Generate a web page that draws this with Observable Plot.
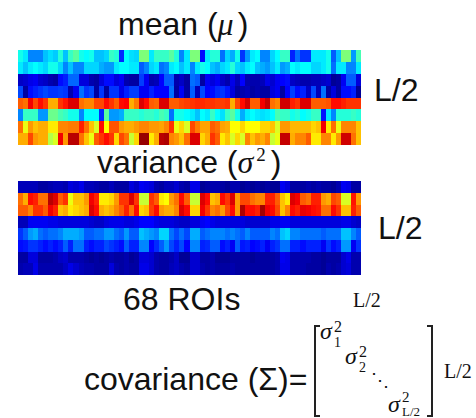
<!DOCTYPE html>
<html><head><meta charset="utf-8">
<script src="https://cdn.jsdelivr.net/npm/d3@7"></script>
<script src="https://cdn.jsdelivr.net/npm/@observablehq/plot@0.6"></script>
<style>
html,body{margin:0;padding:0;background:#fff;overflow:hidden}
#page{position:relative;width:476px;height:418px;overflow:hidden}
.t{position:absolute;white-space:nowrap;line-height:1;color:#111}
.sans{font-family:"Liberation Sans",Arial,sans-serif}
.serif{font-family:"Liberation Serif","Times New Roman",serif}
.i{font-style:italic}
.plot{position:absolute;filter:blur(0.55px)}
.br{position:absolute;border:2px solid #222;width:6px;top:325px;height:92px;box-sizing:border-box}
</style></head><body><div id="page"></div>
<script>
const rois = d3.range(1, 69);
const meanRow1 = [38,34,24,24,24,30,33,31,40,30,42,46,38,36,38,30,30, 32,42,40,15,36,33,32,50,50,34,42,42,42,46,40,24,34, 50,50,12,34,40,40,22,32,28,38,16,26,34,36,24,24,32, 36,42,42,14,22,16,16,34,34,34,38,20,30,50,50,26,44];
const meanRow2 = [34,30,34,36,34,32,38,38,32,24,30,24,24,32,32,32,28, 26,26,34,36,36,34,34,20,24,32,34,22,24,34,36,30,34, 24,34,38,36,30,28,32,34,40,32,30,34,36,30,28,26,30, 34,26,28,36,34,36,36,32,32,34,38,22,34,34,24,24,34];
const meanRow3 = [6,7,9,10,7,6,4,3,12,14,21,21,8,8,4,3,8, 12,12,8,10,4,3,3,17,10,4,5,11,20,20,4,6,3, 22,20,3,10,8,10,6,4,9,5,11,4,4,4,5,9,7, 10,11,12,6,5,4,4,5,5,6,7,2,3,10,20,20,8];
const meanRow4 = [18,3,12,14,16,18,16,16,17,16,4,10,22,16,18,3,16, 3,16,16,9,14,17,17,10,10,14,11,11,11,22,3,10,3, 20,5,18,11,12,15,16,13,8,3,4,5,3,4,3,3,8, 10,3,11,17,12,14,6,18,5,22,3,8,3,12,12,14,2];
const meanRow5 = [80,78,90,82,88,84,72,72,84,87,92,92,78,76,76,82,82, 88,84,80,88,89,72,77,92,88,80,79,92,92,80,80,82,83, 84,85,85,84,84,83,83,84,72,82,88,93,80,80,90,94,78, 76,93,93,86,84,92,92,80,80,80,81,88,88,86,84,84,84];
const meanRow6 = [24,42,42,42,26,26,48,48,44,42,38,38,24,36,36,36,15, 46,26,26,28,42,42,42,40,42,42,40,44,42,22,38,38,36, 34,30,36,34,42,36,33,42,46,38,28,34,36,34,33,34,36, 44,42,42,38,40,36,38,42,42,13,34,24,40,40,40,42,40];
const meanRow7 = [78,62,74,70,72,72,66,66,76,76,77,77,86,78,70,60,88, 64,81,81,74,72,72,74,76,76,74,74,73,76,84,62,68,60, 82,77,73,73,80,78,73,72,64,64,68,64,64,64,68,68,70, 60,74,74,71,71,71,71,68,70,90,66,78,62,76,76,76,70];
const meanRow8 = [72,72,82,74,72,72,56,60,90,74,95,95,78,70,62,80,84, 88,84,68,82,78,58,68,98,98,66,72,95,96,76,74,70,78, 92,92,68,72,84,80,66,70,60,68,60,76,70,74,72,76,58, 62,94,94,72,76,76,80,66,66,76,76,66,74,93,93,78,70];

const varRow1 = [5,5,5,5,3,3,4,5,5,4,8,7,9,5,5,4,3,3,5,3,3,3,8,6,10,9,8,4,3,5,5,7,4,3, 9,9,2,3,4,4,3,2,4,4,2,3,2,3,2,3,2,2,10,8,3,3,3,4,3,4,3,3,2,4,10,9,3,3];
const varRow2 = [78,72,88,86,78,78,95,92,80,84,62,70,70,74,90,86,66,66,68,74,84,84,92,84,58,58,84,80,66,64,74,78,88,80, 58,58,92,88,70,72,88,84,92,74,82,82,78,76,76,86,86,80,70,66,92,90,80,78,86,86,74,72,82,80,60,60,87,74];
const varRow3 = [80,80,76,84,84,80,90,86,70,72,66,68,70,72,92,88,72,70,72,76,80,86,78,88,68,70,83,88,74,72,72,76,92,88, 68,68,90,84,76,78,74,82,88,74,96,88,88,86,97,90,88,82,70,76,88,86,91,90,88,87,78,78,88,84,70,70,86,80];
const varRow4 = [5,5,10,10,10,10,9,9,8,8,8,8,8,8,7,6,6,8,9,9,9,8,8,9,11,11,11,9,8,8,8,7,6,6, 8,8,10,11,9,8,8,8,8,8,8,7,7,7,7,7,9,9,10,10,8,8,8,8,8,8,8,8,8,8,9,9,7,6];
const varRow5 = [16,20,26,28,22,20,22,22,24,28,28,28,26,20,20,22,22,26,26,22,20,26,20,20,30,28,26,24,32,32,22,18,22,18, 28,28,20,22,24,24,24,22,24,22,20,24,20,20,20,20,24,22,30,32,24,24,22,22,22,22,20,22,22,22,30,30,24,20];
const varRow6 = [12,13,16,16,14,12,14,12,14,20,14,22,22,14,12,14,14,18,16,14,12,20,14,14,24,24,11,15,20,26,18,14,18,11, 24,24,14,15,20,20,12,14,10,20,13,14,11,12,14,10,14,16,22,22,14,14,12,14,14,14,10,16,12,14,26,26,10,16];
const varRow7 = [3,3,8,8,3,3,3,4,6,7,4,4,4,3,2,3,2,3,4,3,3,4,2,3,8,8,7,4,3,3,4,6,2,2, 7,7,3,3,4,2,2,2,3,3,3,3,2,3,3,3,3,4,10,9,4,4,4,4,3,3,2,3,3,3,7,9,4,4];
const varRow8 = [4,5,5,9,4,4,4,4,4,6,9,7,5,4,4,3,3,3,8,4,3,4,3,3,9,9,7,4,3,3,5,6,4,3, 7,7,4,3,4,3,3,3,4,3,3,3,3,3,3,3,3,4,9,9,4,4,4,3,3,3,2,4,3,4,7,8,4,4];

const meanRows = [meanRow1,meanRow2,meanRow3,meanRow4,meanRow5,meanRow6,meanRow7,meanRow8];
const varRows = [varRow1,varRow2,varRow3,varRow4,varRow5,varRow6,varRow7,varRow8];

const jetStops = [0,11,36,50,64,89,100];
const jetColors = ["#00007f","#0000ff","#00ffff","#7dff7a","#ffff00","#ff0000","#7f0000"];

const page = document.getElementById("page");
function heat(rows, left, top, w, h){
  const cells = rows.flatMap((row,r)=>row.map((value,c)=>({roi:rois[c],row:r,value})));
  const svg = Plot.plot({
    width:w,height:h,margin:0,
    x:{type:"band",domain:rois,padding:0,round:false,axis:null},
    y:{type:"band",domain:d3.range(8),padding:0,round:false,axis:null},
    color:{type:"linear",domain:jetStops,range:jetColors,interpolate:"rgb"},
    marks:[Plot.cell(cells,{x:"roi",y:"row",fill:"value",inset:0,shapeRendering:"crispEdges"})]
  });
  const d=document.createElement("div");d.className="plot";
  d.style.left=left+"px";d.style.top=top+"px";d.style.width=w+"px";d.style.height=h+"px";
  d.appendChild(svg);page.appendChild(d);
}
heat(meanRows,18,50,343,95);
heat(varRows,18,181,343,94);

function txt(html,x,base,size,cls,lh=1){
  const s=document.createElement("span");s.className="t "+cls;s.innerHTML=html;
  s.style.left=x+"px";s.style.fontSize=size+"px";s.style.lineHeight=lh;
  s.style.top=(base-(0.83-(1-lh)/2)*size)+"px";
  page.appendChild(s);return s;
}
txt('mean (<span class="serif i" style="margin-right:4px">μ</span>)',118,35,32,"sans");
txt('L/2',374,101,32,"sans");
txt('variance (<span class="serif i">σ</span><span class="serif" style="font-size:19px;position:relative;top:-12px;margin:0 5px 0 3px">2</span>)',97,173,32,"sans");
txt('L/2',378,239,32,"sans");
txt('68 ROIs',123,310,32,"sans");
txt('L/2',353,307,20,"serif");
txt('covariance (Σ)=',84,390,32,"sans");
txt('L/2',444,378,20,"serif");

function sig(x,base,sub){
  const long=sub.length>1;
  txt('σ',x,base,24,"serif i",0.8);
  txt('2',x+14,base-(long?11:7),long?15:16,"serif",0.8);
  txt(sub,x+14,base+(long?3:7),long?13:14,"serif",0.8);
}
sig(320,340,'1');
sig(345,365,'2');
sig(388,413,'L/2');
txt('⋱',371,386,18,"serif");

const bl=document.createElement("div");bl.className="br";bl.style.left="314px";bl.style.borderRight="none";page.appendChild(bl);
const br=document.createElement("div");br.className="br";br.style.left="427px";br.style.borderLeft="none";page.appendChild(br);
</script></body></html>
